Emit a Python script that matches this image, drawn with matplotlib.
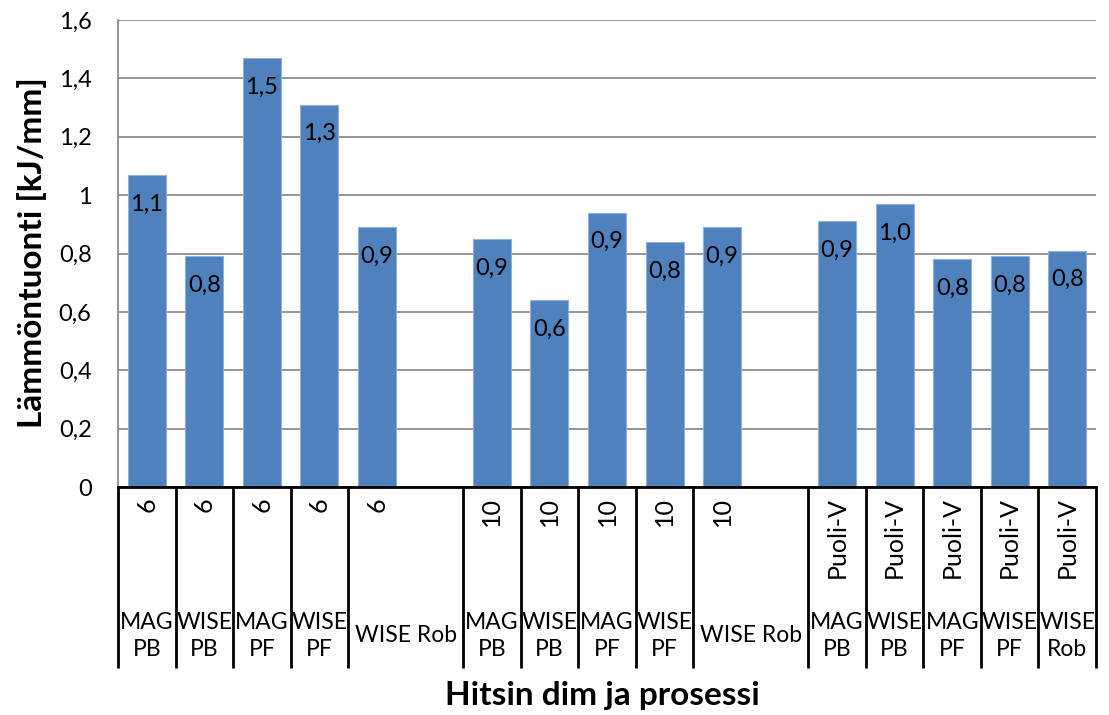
import matplotlib.pyplot as plt
import matplotlib.transforms as mtransforms
from decimal import Decimal, ROUND_HALF_UP

plt.rcParams['font.family'] = ['Lato', 'DejaVu Sans']

# one slot per bar, None marks the empty slot after each WISE Rob group
dims = ["6", "6", "6", "6", "6", None,
        "10", "10", "10", "10", "10", None,
        "Puoli-V", "Puoli-V", "Puoli-V", "Puoli-V", "Puoli-V"]
processes = ["MAG\nPB", "WISE\nPB", "MAG\nPF", "WISE\nPF", "WISE Rob", None,
             "MAG\nPB", "WISE\nPB", "MAG\nPF", "WISE\nPF", "WISE Rob", None,
             "MAG\nPB", "WISE\nPB", "MAG\nPF", "WISE\nPF", "WISE\nRob"]
heat_input = [1.07, 0.79, 1.47, 1.31, 0.89, None,
              0.85, 0.64, 0.94, 0.84, 0.89, None,
              0.91, 0.97, 0.78, 0.79, 0.81]
yticks = [0, 0.2, 0.4, 0.6, 0.8, 1.0, 1.2, 1.4, 1.6]
ytick_labels = ["0", "0,2", "0,4", "0,6", "0,8", "1", "1,2", "1,4", "1,6"]


def fmt(v):
    # one decimal, rounded half up, decimal comma
    return str(Decimal(str(v)).quantize(Decimal("0.1"), ROUND_HALF_UP)).replace(".", ",")


fig = plt.figure(figsize=(11.09, 7.15), dpi=100)
W, H = 1109, 715
ax = fig.add_axes([118 / W, 1 - 487 / H, (1096 - 118) / W, (487 - 20) / H])

n = len(heat_input)
xs = [i for i in range(n) if heat_input[i] is not None]
vals = [heat_input[i] for i in xs]
ax.bar(xs, vals, width=0.66, color="#4F81BD", edgecolor="#8EB0DA",
       linewidth=0.8, zorder=3)
for x, v in zip(xs, vals):
    ax.annotate(fmt(v), (x, v), xytext=(0, -21), textcoords="offset points",
                ha="center", va="center", fontsize=17, color="black", zorder=4)

ax.set_xlim(-0.5, n - 0.5)
ax.set_ylim(0, 1.6)
ax.set_yticks(yticks)
ax.set_yticklabels(ytick_labels, fontsize=17)
ax.tick_params(axis="y", length=0, pad=19)
ax.yaxis.grid(True, color="#8C8C8C", linewidth=1.3, zorder=0)
ax.set_xticks([])
for side in ["top", "right"]:
    ax.spines[side].set_visible(False)
ax.spines["left"].set_color("#8C8C8C")
ax.spines["left"].set_linewidth(1.3)
ax.spines["bottom"].set_color("black")
ax.spines["bottom"].set_linewidth(2)
ax.spines["bottom"].set_zorder(5)

# two-level category axis drawn below the plot area
trans = mtransforms.blended_transform_factory(ax.transData, ax.transAxes)
px = 1 / (487 - 20)
y_bottom = -(668 - 487) * px
bounds = [-0.5] + [i + 0.5 for i in range(n) if i + 1 >= n or processes[i + 1] is not None]
for b in bounds:
    ax.plot([b, b], [0, y_bottom], transform=trans, color="black",
            linewidth=2, clip_on=False, solid_capstyle="butt")

for i in range(n):
    if dims[i] is None:
        continue
    ax.text(i, -(497 - 487) * px, dims[i], transform=trans, rotation=90,
            ha="center", va="top", fontsize=18)
    # labels for the wide WISE Rob cells sit in the middle of both slots
    cx = i + 0.5 if (i + 1 < n and processes[i + 1] is None) else i
    ax.text(cx, -(636 - 487) * px, processes[i], transform=trans,
            ha="center", va="center", fontsize=16.5, linespacing=1.35)

fig.text(32 / W, 1 - 253 / H, "Lämmöntuonti [kJ/mm]", rotation=90,
         ha="center", va="center", fontsize=24, fontweight="bold")
fig.text(602 / W, 1 - 695 / H, "Hitsin dim ja prosessi", ha="center",
         va="center", fontsize=24, fontweight="bold")

fig.savefig("out.png", dpi=100)
